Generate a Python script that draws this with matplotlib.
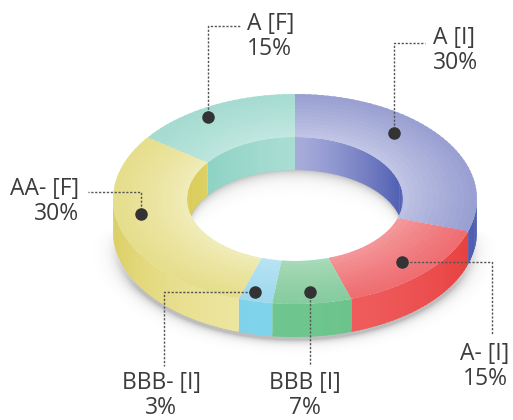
import numpy as np
import matplotlib
matplotlib.use("Agg")
import matplotlib.pyplot as plt
from matplotlib.collections import PolyCollection
from matplotlib.colors import to_rgb

# rating split, clockwise from 12 o'clock
labels = ['A [I]', 'A- [I]', 'BBB [I]', 'BBB- [I]', 'AA- [F]', 'A [F]']
shares = [30, 15, 7, 3, 30, 15]

# colours: top outer, top inner, side dark, side light, inner wall light, inner wall dark
top_out = ['#989fd1', '#ee6c70', '#86cb9e', '#9fd8ee', '#e5dd8a', '#a5dbd0']
top_in = ['#bcc0e3', '#f49a9c', '#aadbba', '#b9e4f3', '#f1edbb', '#bde6de']
side_dk = ['#4a5ab0', '#e53a3a', '#52b875', '#66c8e4', '#dbce62', '#7fcdbb']
side_lt = ['#6a78c4', '#f05e5e', '#6ec58e', '#80d3ea', '#eee7a4', '#a0dad0']
wall_lt = ['#a7acda', '#f08080', '#8fd0a5', '#9fd8ee', '#e8df8a', '#a9ddd4']
wall_dk = ['#4f5eb2', '#e04040', '#52b875', '#66c8e4', '#d9cc58', '#85cfbf']

# ring geometry in pixels
cx, cy = 295, 199
rxo, ryo = 182, 105
rxi, ryi = 108, 62
depth = 33


def mix(a, b, t):
    a, b = np.array(to_rgb(a)), np.array(to_rgb(b))
    return tuple(a + (b - a) * t)


def pt(th, rx, ry, dy=0):
    t = np.radians(th)
    return cx + rx * np.cos(t), cy - ry * np.sin(t) + dy


def steps(hi, lo, size):
    # angle pairs from hi down to lo, each strip overlapping the next a little
    th = np.linspace(hi, lo, max(2, int((hi - lo) / size) + 1))
    st = th[0] - th[1]
    out = []
    for i, (a, b) in enumerate(zip(th[:-1], th[1:])):
        b2 = b if i == len(th) - 2 else b - 0.6 * st
        out.append((a, b2, 0.5 * (a + b)))
    return out


fig = plt.figure(figsize=(5.13, 4.2), dpi=100)
ax = fig.add_axes([0, 0, 1, 1])
ax.set_xlim(0, 513)
ax.set_ylim(420, 0)
ax.axis('off')

cum = np.concatenate([[0], np.cumsum(shares)]) / sum(shares)
starts = 90 - 360 * cum[:-1]
ends = 90 - 360 * cum[1:]

# soft drop shadow under the ring and inside the hole
yy, xx = np.mgrid[0:420, 0:513] + 0.5
e = np.sqrt(((xx - cx) / (rxo + 1)) ** 2 + ((yy - cy - depth - 3) / ryo) ** 2)
a_out = 0.34 * np.exp(-np.clip(e - 1, 0, None) * ryo / 3.5)
a_out *= np.clip((yy - cy - 30) / 60, 0, 1)
a_out[e < 0.95] = 0
inside = ((xx - cx) / rxi) ** 2 + ((yy - cy) / ryi) ** 2 < 1
yb = cy + depth - ryi * np.sqrt(np.clip(1 - ((xx - cx) / rxi) ** 2, 0, None))
d = yy - yb
a_in = np.where(inside & (d > -2), 0.32 * np.exp(-np.clip(d, 0, None) / 6), 0)
shade = np.zeros((420, 513, 4))
shade[..., :3] = 0.25
shade[..., 3] = np.maximum(a_out, a_in)
ax.imshow(shade, extent=(0, 513, 420, 0), interpolation='bilinear', zorder=1)

polys, cols = [], []

# inner wall, back half of the hole
for k in range(len(shares)):
    for off in (0, 360):
        lo, hi = max(ends[k] + off, 0), min(starts[k] + off, 180)
        if hi <= lo:
            continue
        for a, b, m in steps(hi, lo, 1.5):
            c = mix(wall_lt[k], wall_dk[k], abs(np.cos(np.radians(m))) ** 1.3)
            polys.append([pt(a, rxi, ryi), pt(b, rxi, ryi),
                          pt(b, rxi, ryi, depth), pt(a, rxi, ryi, depth)])
            cols.append(c)

# outer wall, front half
for k in range(len(shares)):
    lo, hi = max(ends[k], -180), min(starts[k], 0)
    if hi <= lo:
        continue
    for a, b, m in steps(hi, lo, 1.5):
        c = mix(side_dk[k], side_lt[k], abs(np.sin(np.radians(m))) ** 1.5)
        polys.append([pt(a, rxo, ryo), pt(b, rxo, ryo),
                      pt(b, rxo, ryo, depth), pt(a, rxo, ryo, depth)])
        cols.append(c)

ax.add_collection(PolyCollection(polys, facecolors=cols, edgecolors='none',
                                 zorder=2))

# top face, lighter toward the hole
polys, cols = [], []
fr = np.linspace(0, 1, 13)
for k in range(len(shares)):
    for j, (f0, f1) in enumerate(zip(fr[:-1], fr[1:])):
        f1b = f1 if j == len(fr) - 2 else f1 + 0.6 * (f1 - f0)
        rx0, ry0 = rxi + (rxo - rxi) * f0, ryi + (ryo - ryi) * f0
        rx1, ry1 = rxi + (rxo - rxi) * f1b, ryi + (ryo - ryi) * f1b
        fm = 0.5 * (f0 + f1)
        for a, b, m in steps(starts[k], ends[k], 2):
            mr = np.radians(m)
            c = mix(top_in[k], top_out[k], fm ** 0.8)
            c = mix(c, '#ffffff', 0.12 * max(0, np.sin(mr + 0.6)) * (1 - fm))
            polys.append([pt(a, rx0, ry0), pt(b, rx0, ry0),
                          pt(b, rx1, ry1), pt(a, rx1, ry1)])
            cols.append(c)

ax.add_collection(PolyCollection(polys, facecolors=cols, edgecolors='none',
                                 zorder=3))

# leader lines: anchor (angle nudge, radius fraction), elbow path, text spot
mids = 0.5 * (starts + ends)
nudge = [13, -0.6, -0.1, -1.4, -8.4, 4.5]
rad = [0.83, 0.84, 0.89, 0.91, 0.86, 0.92]
paths = [
    [('v', 43), ('h', 425)],
    [('h', 492), ('v', 335)],
    [('v', 366)],
    [('h', 164), ('v', 366)],
    [('v', 192), ('h', 88)],
    [('v', 26), ('h', 240)],
]
txt = [(433, 44, 'left'), (485, 360, 'center'), (305, 389, 'center'),
       (161, 389, 'center'), (79, 195, 'right'), (247, 30, 'left')]

for k in range(len(shares)):
    th = mids[k] + nudge[k]
    s = (rad[k] - rxi / rxo) / (1 - rxi / rxo)
    x0, y0 = pt(th, rxi + (rxo - rxi) * s, ryi + (ryo - ryi) * s)
    xs, ys = [x0], [y0]
    for kind, v in paths[k]:
        if kind == 'v':
            xs.append(xs[-1]); ys.append(v)
        else:
            xs.append(v); ys.append(ys[-1])
    ax.plot(xs, ys, color='#555555', lw=1.0, ls=(0, (1.6, 1.2)), zorder=4)
    ax.plot(x0, y0, 'o', ms=8, color='#333333', zorder=5)
    tx, ty, ha = txt[k]
    ax.text(tx, ty, labels[k], ha=ha, va='baseline', fontsize=16.5,
            family='Open Sans', color='#3c3c3c', zorder=6)
    ax.text(tx, ty + 25, f'{shares[k]}%', ha=ha, va='baseline', fontsize=16.5,
            family='Open Sans', color='#3c3c3c', zorder=6)

fig.savefig('out.png', dpi=100)
